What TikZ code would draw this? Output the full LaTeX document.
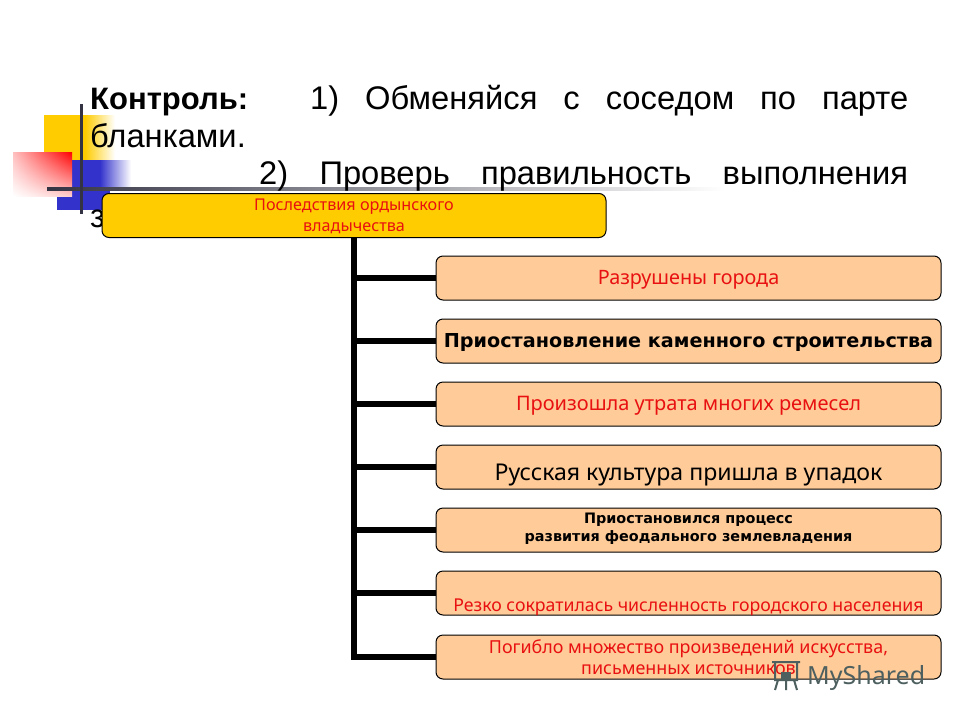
\documentclass[tikz,border=0pt]{standalone}
\usepackage{fontspec}
\setmainfont{Liberation Sans}
\newfontfamily\boxfont{Noto Sans}
\newfontfamily\boxbold{DejaVu Sans}
\usetikzlibrary{shadings}
\definecolor{boxfill}{HTML}{FFCC99}
\definecolor{topfill}{HTML}{FFCC00}
\definecolor{redtxt}{HTML}{E81010}
\definecolor{barblue}{HTML}{3333CC}
\definecolor{rulec}{HTML}{333344}
\definecolor{markc}{HTML}{4D5F5F}
\newcommand{\fs}[1]{\fontsize{#1}{#1}\selectfont}
\tikzset{
  x=1pt,y=-1pt,
  outline/.style={draw=black,line width=1pt,rounded corners=7pt,fill=boxfill,minimum width=505pt,minimum height=44pt,inner sep=0pt},
  topbox/.style={outline,fill=topfill,minimum width=504pt},
  conn/.style={draw=black,line width=5.5pt},
  title/.style={inner sep=0pt,anchor=base west,text=black},
  txt/.style={inner sep=0pt,align=center,font=\boxfont}
}
\begin{document}
\begin{tikzpicture}
\useasboundingbox (0,0) rectangle (960,720);
\fill[white] (0,0) rectangle (960,720);
% decoration
\fill[topfill] (44,115) rectangle (86,160);
\shade[left color=topfill,right color=white,draw=none] (85,115) rectangle (115,160);
\fill[barblue] (57,160) rectangle (100,210);
\fill[barblue] (57,190) rectangle (110,210);
\shade[left color=barblue,right color=white,draw=none] (100,160) rectangle (131,188);
\shade[lower left=white,upper right=red,upper left=white!75!red,lower right=white!80!red,draw=none] (13,152) rectangle (72,196);
\shade[left color=rulec,right color=white,draw=none] (47,187) rectangle (725,190);
\fill[rulec] (79.5,104) rectangle (82.5,214);
% title
\node[title,font=\fs{31}\bfseries] (t1) at (90,109) {Контроль:};
\node[title,font=\fs{32.7}] (t2) at (310,109) {\hbox to 598pt{1)\hfill Обменяйся\hfill с\hfill соседом\hfill по\hfill парте}};
\node[title,font=\fs{32.7}] (t3) at (90,147) {бланками.};
\node[title,font=\fs{32.7}] (t4) at (259,184) {\hbox to 649pt{2)\hfill Проверь\hfill правильность\hfill выполнения}};
\node[title,font=\fs{32.7}] (t5) at (90,227) {з};
% boxes
\node[topbox] (top) at (354,215.5) {};
\node[outline] (b1) at (688.5,278) {};
\node[outline] (b2) at (688.5,341) {};
\node[outline] (b3) at (688.5,404) {};
\node[outline] (b4) at (688.5,467) {};
\node[outline] (b5) at (688.5,530) {};
\node[outline] (b6) at (688.5,593) {};
\node[outline] (b7) at (688.5,657) {};
% connectors
\draw[conn] (top.south) |- (b7.west);
\foreach \n in {b1,b2,b3,b4,b5,b6}{\draw[conn] (top.south |- \n.west) -- (\n.west);}
% labels
\node[txt,text=redtxt,font=\boxfont\fs{16.2},yshift=-1pt] (lt) at (top.center) {Последствия ордынского\\[5pt]владычества};
\node[txt,text=redtxt,font=\boxfont\fs{19.8},yshift=-2pt] (l1) at (b1.center) {Разрушены города};
\node[txt,font=\boxbold\bfseries\fs{19.2},yshift=-1pt] (l2) at (b2.center) {Приостановление каменного строительства};
\node[txt,text=redtxt,font=\boxfont\fs{20},yshift=-2pt] (l3) at (b3.center) {Произошла утрата многих ремесел};
\node[txt,font=\boxfont\fs{23.1},yshift=-8pt] (l4) at (b4.center) {Русская культура пришла в упадок};
\node[txt,font=\boxbold\bfseries\fs{14.4},yshift=1pt] (l5) at (b5.center) {Приостановился процесс\\[4pt]развития феодального землевладения};
\node[txt,text=redtxt,font=\boxfont\fs{17.7},yshift=-14pt] (l6) at (b6.center) {Резко сократилась численность городского населения};
\node[txt,text=redtxt,font=\boxfont\fs{17.9}] (l7) at (b7.center) {Погибло множество произведений искусства,\\[3pt]письменных источников};
% watermark
\node[inner sep=0pt,anchor=base west,font=\boxfont\fs{25},text=markc] (wm) at (807,684) {MyShared};
\draw[markc,line width=2pt] (772,662) -- (800,662) (775,662) rectangle (797,680) (778,680) -- (775,690) (794,680) -- (797,690) (786,680) -- (786,690);
\fill[markc] (781,672) rectangle (791,680);
\end{tikzpicture}
\end{document}
